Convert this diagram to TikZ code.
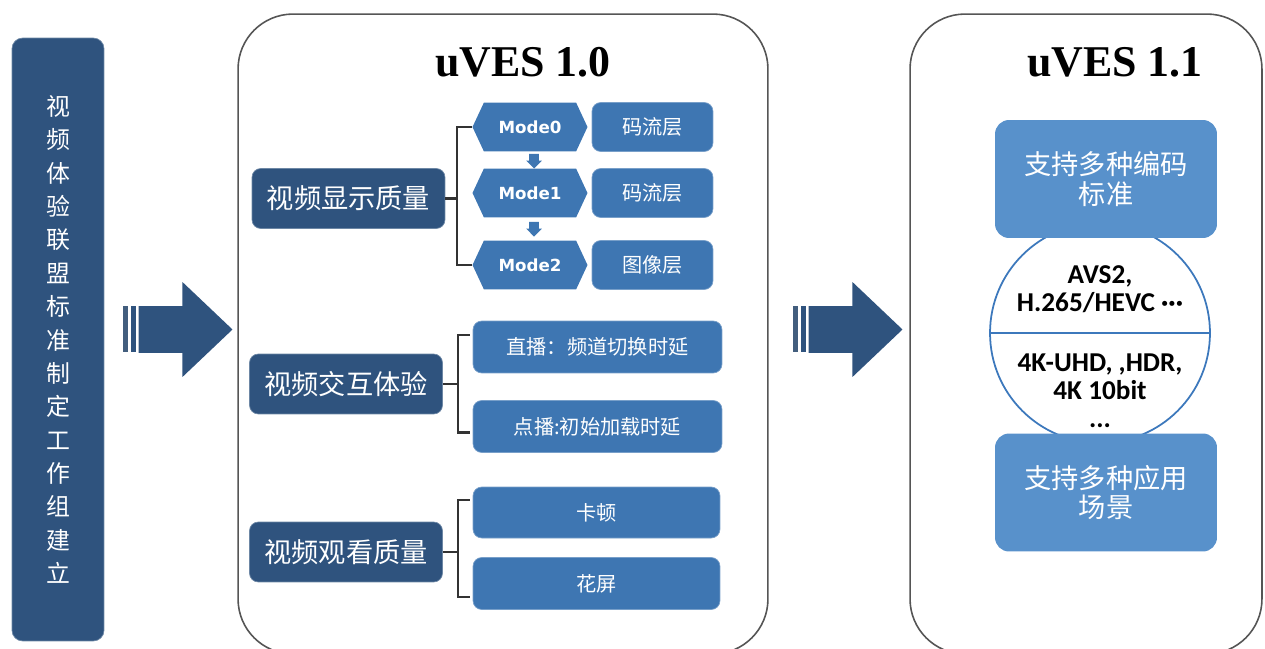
\documentclass[tikz,border=0pt]{standalone}
\usepackage{fontspec}
\usepackage{tikz}
\usetikzlibrary{shapes.symbols,shapes.arrows,shapes.geometric}
\newfontfamily\cjk{Noto Sans CJK SC}
\newfontfamily\titlefont{Liberation Serif}
\newfontfamily\modefont{DejaVu Sans}
\newfontfamily\latinfont{Carlito}
\definecolor{darkblue}{RGB}{47,83,126}
\definecolor{midblue}{RGB}{62,118,178}
\definecolor{lightblue}{RGB}{88,145,203}
\definecolor{ringblue}{RGB}{60,120,188}
\definecolor{framegray}{RGB}{85,85,85}

\begin{document}
\begin{tikzpicture}[x=0.02cm, y=-0.02cm]
      \tikzstyle{panel} = [rectangle, draw=framegray, line width=0.9pt, rounded corners=1.1cm, inner sep=0pt]
      \tikzstyle{title} = [font=\titlefont\bfseries\fontsize{25}{28}\selectfont]
      \tikzstyle{topic} = [rectangle, rounded corners=5pt, fill=darkblue, draw=darkblue!70!white, text=white, minimum width=3.86cm, minimum height=1.2cm, font=\cjk\fontsize{15.5}{17}\selectfont]
      \tikzstyle{item} = [rectangle, rounded corners=5pt, fill=midblue, draw=midblue!70!white, text=white, font=\cjk\fontsize{11.5}{13}\selectfont]
      \tikzstyle{mode} = [signal, signal to=east and west, signal pointer angle=130, fill=midblue, text=white, minimum width=2.3cm, minimum height=0.98cm, inner sep=0pt, font=\modefont\bfseries\fontsize{9.5}{11}\selectfont]
      \tikzstyle{feature} = [rectangle, rounded corners=8pt, fill=lightblue, text=white, minimum width=4.44cm, minimum height=2.36cm, align=center, font=\cjk\fontsize{15.5}{17}\selectfont]
      \tikzstyle{ring} = [circle, draw=ringblue, line width=1pt, fill=white, minimum size=4.4cm, inner sep=0pt]
      \tikzstyle{spec} = [align=center, font=\latinfont\bfseries\fontsize{15.5}{16}\selectfont]
      \tikzstyle{brace} = [draw=black!80, line width=1.3pt]
      \tikzstyle{bigarrow} = [single arrow, fill=darkblue, minimum width=1.9cm, minimum height=1.88cm, single arrow head extend=0.48cm, single arrow tip angle=87, inner sep=0.46cm, anchor=tip]
      \tikzstyle{smallarrow} = [single arrow, shape border rotate=270, fill=midblue, minimum width=0.3cm, minimum height=0.26cm, single arrow head extend=0.06cm, inner sep=0.09cm, anchor=tip]

      \useasboundingbox (0,0) rectangle (1265,649);

      % working group
      \node[rectangle, rounded corners=6pt, fill=darkblue, draw=darkblue!70!white, text=white, minimum width=1.84cm, minimum height=12.06cm, align=center, font=\cjk\fontsize{13.6}{19}\selectfont] (group) at (58,339.5)
        {视\\频\\体\\验\\联\\盟\\标\\准\\制\\定\\工\\作\\组\\建\\立};

      \foreach \n/\sx in {1/123, 2/793}
      {
        \fill[darkblue!75!gray] (\sx,306) rectangle ++(5,46);
        \fill[darkblue] (\sx+8,306) rectangle ++(5,46);
        \node[bigarrow] (move-\n) at (\sx+110,329.5) {};
      }

      % uVES 1.0
      \node[panel, minimum width=10.6cm, minimum height=12.8cm] (v10) at (503,334) {};
      \node[title] (v10-title) at (523,62) {uVES 1.0};

      \node[topic] (display) at (348.5,198.5) {视频显示质量};
      \foreach \i/\y/\lay in {0/127/码流层, 1/193/码流层, 2/265/图像层}
      {
        \node[mode] (mode-\i) at (530,\y) {Mode\i};
        \node[item, minimum width=2.42cm, minimum height=0.98cm] (layer-\i) at (652.5,\y) {\lay};
      }
      \foreach \i/\y in {0/169, 1/237}
        \node[smallarrow] (next-\i) at (534,\y) {};
      \draw[brace] (mode-0.west) -- ++(-15,0) |- (mode-2.west);
      \draw[brace] (display.east) -- ++(13,0);

      \node[topic] (interact) at (346,384) {视频交互体验};
      \node[item, minimum width=4.98cm, minimum height=1.04cm] (live) at (597.5,347) {直播：频道切换时延};
      \node[item, minimum width=4.98cm, minimum height=1.04cm] (vod) at (597.5,426.5) {点播:初始加载时延};
      \draw[brace] ([shift={(-3,-12)}]live.west) -- ++(-12,0) |- ([shift={(-3,6)}]vod.west);
      \draw[brace] (interact.east) -- ++(16,0);

      \node[topic] (watch) at (346,552) {视频观看质量};
      \node[item, minimum width=4.94cm, minimum height=1.02cm] (stall) at (596.5,512.5) {卡顿};
      \node[item, minimum width=4.94cm, minimum height=1.04cm] (artifact) at (596.5,583.5) {花屏};
      \draw[brace] ([shift={(-3,-12.5)}]stall.west) -- ++(-12,0) |- ([shift={(-3,13.5)}]artifact.west);
      \draw[brace] (watch.east) -- ++(16,0);

      % uVES 1.1
      \node[panel, minimum width=7.04cm, minimum height=12.8cm] (v11) at (1086,334) {};
      \node[title] (v11-title) at (1115,62) {uVES 1.1};

      \node[ring] (codecs) at (1100,333) {};
      \draw[ringblue, line width=1.4pt] (codecs.west) -- (codecs.east);
      \node[feature] (standard) at (1106,179) {支持多种编码\\标准};
      \node[feature] (scene) at (1106,492.5) {支持多种应用\\场景};
      \node[spec] (spec-top) at (1100,289) {AVS2,\\H.265/HEVC ···};
      \node[spec] (spec-bot) at (1100,391) {4K-UHD, ,HDR,\\4K 10bit\\...};
\end{tikzpicture}
\end{document}
